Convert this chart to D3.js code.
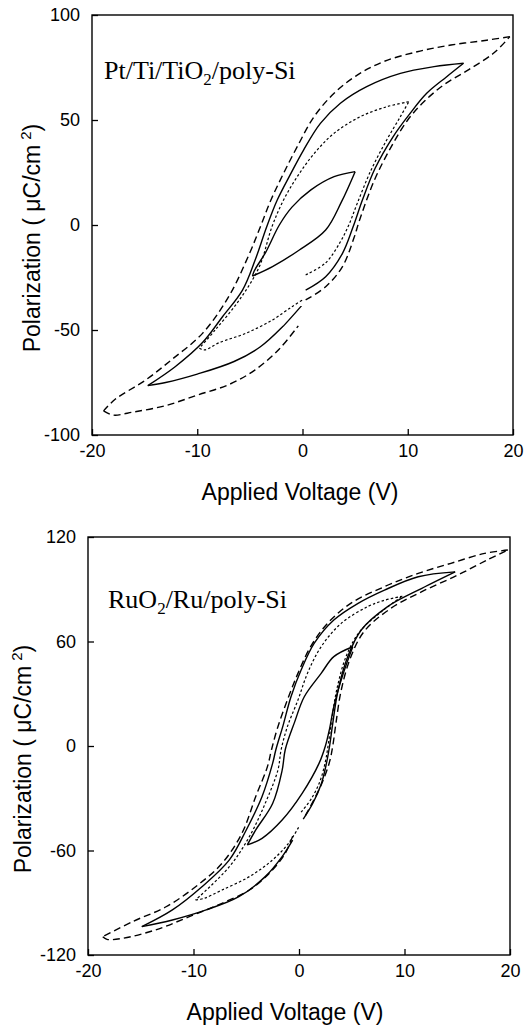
<!DOCTYPE html>
<html>
<head>
<meta charset="utf-8">
<title>P-V hysteresis loops</title>
<script src="https://d3js.org/d3.v7.min.js"></script>
<style>
  body { margin: 0; background: #fff; }
  svg text { font-family: Arial, "Liberation Sans", sans-serif; fill: #000; }
  .axis-title { font-size: 23px; }
  .sample { font-family: "Times New Roman", "Liberation Serif", serif; font-size: 26px; }
</style>
</head>
<body>
<script>
var width = 525, height = 1031;

// x ticks (both panels)
var voltTicks = [-20, -10, 0, 10, 20];

// ---- top panel: Pt/Ti/TiO2/poly-Si ----
var ptPolTicks = [-100, -50, 0, 50, 100];
// each loop: start at 0 V, up to +Vmax, down to -Vmax, back to 0 V  [V, uC/cm2]
var ptLoop20 = [[0.3,-35.7],[2.2,-29.4],[3.8,-19.8],[4.9,-6],[5.4,2],[6.8,21],[8.4,37],[10,50],[11.6,59],[13.5,67],[15.8,74],[18.2,82],[19.7,89.7],
  [17.5,88],[14.1,85.7],[10.9,82.5],[7.7,77.8],[5.2,71.4],[3,62.7],[1.1,51.6],[-0.5,37.3],[-1.8,24.6],[-3,11.9],[-4,-0.8],[-5.1,-14.3],[-7,-34],[-9.5,-51.6],[-12.4,-64],[-14.9,-73.8],[-17.8,-83],[-18.9,-88.5],
  [-18,-90.5],[-16,-89],[-13,-86],[-10,-81],[-7,-76],[-4.5,-69],[-2.2,-59],[-0.4,-48]];
var ptLoop15 = [[0.3,-31],[2.2,-24.6],[3.8,-13.5],[4.8,-1],[5.7,12],[6.9,27],[8.6,42],[10.2,53],[11.8,62.7],[13.7,70.6],[15.3,77],
  [12.5,75.4],[9.3,72.2],[6.1,65.9],[3.6,58],[1.7,48.4],[0.1,35.7],[-1.1,24.6],[-2.4,11.9],[-3.4,-0.8],[-4.5,-16.7],[-5.7,-31],[-7.6,-43.7],[-9.5,-56],[-12.1,-67.5],[-14.7,-76.5],
  [-13,-75],[-10,-71],[-6.5,-65],[-4,-58],[-1.9,-48.5],[-0.1,-38.5]];
var ptLoop10 = [[0.3,-23.8],[2.2,-18],[3.6,-8],[4.4,0],[5.2,10.3],[6.5,26],[8,40.5],[9.3,51.6],[10.1,58.7],
  [8,56.3],[5.5,51.6],[3,43.7],[1.1,34],[-0.5,23],[-1.8,11.9],[-2.9,-0.8],[-4.1,-19.8],[-6,-35.7],[-8.3,-50],[-9.8,-58.7],
  [-9.3,-59.5],[-7.9,-56],[-5.4,-51.6],[-2.85,-45.2],[-1,-38.9],[0,-35.7]];
var ptLoop5 = [[-4.75,-24.3],[-2.85,-19.8],[-0.3,-11.9],[2.2,-2.4],[3.7,11],[5,25.4],
  [3,23],[0.8,16.7],[-1,8.5],[-2.2,0],[-3.5,-13],[-4.6,-22],[-4.75,-24.3]];

// ---- bottom panel: RuO2/Ru/poly-Si ----
var ruPolTicks = [-120, -60, 0, 60, 120];
var ruLoop20 = [[0.6,-40],[1.4,-31],[2.2,-21],[2.9,-9],[3.2,0],[3.5,13],[4,32],[4.9,51],[6.2,66],[8.7,79],[11.6,88.5],[15,98],[17.9,107],[19.8,112.5],
  [17.6,110.6],[14.4,104.9],[11.3,99.1],[8.1,91.5],[4.9,81.9],[2.7,70.4],[1.1,57],[-0.1,41.7],[-1.1,26.4],[-2,11.1],[-2.6,-2],[-3,-12],[-4.1,-29],[-5.4,-50],[-7.3,-67.4],[-9.8,-80.8],[-12.6,-92.3],[-15.8,-100.9],[-18.6,-109.5],
  [-18.2,-111],[-16.7,-110.4],[-13.6,-105.6],[-10.4,-98],[-7.3,-90.3],[-4.7,-82.7],[-2.8,-73],[-1.3,-61.6],[-0.5,-50]];
var ruLoop15 = [[0.4,-42],[1.3,-33],[2.1,-22],[2.6,-10],[2.9,0],[3.2,13],[3.7,32],[4.6,51],[5.9,66.6],[8.4,80],[11.3,89.5],[14.8,100],
  [11.3,97.2],[8.1,89.5],[5.6,81.9],[3.3,72.3],[1.45,59],[0.2,43.6],[-0.76,28.3],[-1.5,12],[-2.2,-2.3],[-2.5,-10],[-3.5,-29],[-5,-48.2],[-6.6,-65.4],[-9.2,-80.8],[-12,-94.1],[-14.9,-103.7],
  [-12,-99.9],[-8.8,-94.1],[-5.7,-86.5],[-3.2,-75],[-1.6,-63.5],[-0.6,-54]];
var ruLoop10 = [[0.2,-38],[1.2,-30],[2,-20],[2.5,-9],[2.8,2],[3.1,15],[3.6,33],[4.5,52],[5.8,66],[8,78],[9.8,86],
  [8,83.5],[6.5,80],[4,70.4],[2.1,57],[0.8,41.7],[-0.1,26.4],[-1.1,11.1],[-1.7,-2.3],[-2,-13.8],[-3.2,-32.9],[-4.7,-52],[-6.6,-69.3],[-9.8,-88.4],
  [-9,-87.5],[-7.3,-82.7],[-4.7,-75],[-2.5,-65.4],[-1,-55.9],[0,-46.3]];
var ruLoop5 = [[-4.9,-56.8],[-3.5,-53],[-1.6,-42.5],[0.3,-27.2],[1.9,-10],[2.5,0],[2.9,10],[3.3,22.6],[4.2,41.7],[5.1,57],
  [3.3,51.3],[2.1,41.7],[0.5,28.3],[-0.4,14],[-1.3,-2],[-1.6,-14],[-2.5,-33],[-4.1,-48.2],[-4.9,-56.8]];

var dashStyles = { solid: null, dashed: "7,4", dotted: "2.5,2.2" };

var svg = d3.select("body")
  .append("svg")
  .attr("width", width)
  .attr("height", height);

// break a loop at its voltage turning points so the tips stay sharp
function splitAtTurns(loop) {
  var vs = loop.map(function(d) { return d[0]; });
  var cuts = [0, vs.indexOf(d3.max(vs)), vs.indexOf(d3.min(vs)), loop.length - 1];
  cuts = Array.from(new Set(cuts)).sort(function(a, b) { return a - b; });
  var segs = [];
  for (var i = 0; i < cuts.length - 1; i++) segs.push(loop.slice(cuts[i], cuts[i + 1] + 1));
  return segs;
}

function drawPanel(p) {
  var x = d3.scaleLinear().domain([-20, 20]).range([p.left, p.right]);
  var y = d3.scaleLinear().domain(p.yDomain).range([p.bottom, p.top]);
  var g = svg.append("g");

  var line = d3.line()
    .x(function(d) { return x(d[0]); })
    .y(function(d) { return y(d[1]); })
    .curve(d3.curveCatmullRom.alpha(0.5));

  p.loops.forEach(function(l) {
    splitAtTurns(l.data).forEach(function(seg) {
      g.append("path")
        .attr("d", line(seg))
        .attr("fill", "none")
        .attr("stroke", "#000")
        .attr("stroke-width", l.style == "dotted" ? 1.2 : 1.4)
        .attr("stroke-dasharray", dashStyles[l.style]);
    });
  });

  // x axis, ticks pointing in
  var xAxis = g.append("g")
    .attr("transform", "translate(0," + p.bottom + ")")
    .call(d3.axisBottom(x).tickValues(voltTicks).tickSizeInner(-6).tickSizeOuter(0).tickPadding(9)
      .tickFormat(function(d) { return String(d); }));
  var yAxis = g.append("g")
    .attr("transform", "translate(" + p.left + ",0)")
    .call(d3.axisLeft(y).tickValues(p.yTicks).tickSizeInner(-6).tickSizeOuter(0).tickPadding(12)
      .tickFormat(function(d) { return String(d); }));
  [xAxis, yAxis].forEach(function(a) {
    a.select(".domain").remove();
    a.attr("font-size", 18).attr("font-family", "Arial, 'Liberation Sans', sans-serif");
    a.selectAll("line").attr("stroke-width", 1.3);
  });

  g.append("rect")
    .attr("x", p.left).attr("y", p.top)
    .attr("width", p.right - p.left).attr("height", p.bottom - p.top)
    .attr("fill", "none").attr("stroke", "#000").attr("stroke-width", 1.4);

  // axis titles
  g.append("text")
    .attr("class", "axis-title")
    .attr("x", p.xTitleX).attr("y", p.bottom + 65)
    .attr("text-anchor", "middle")
    .text("Applied Voltage (V)");

  var yt = g.append("text")
    .attr("class", "axis-title")
    .attr("text-anchor", "middle")
    .attr("transform", "translate(" + p.yTitleX + "," + ((p.top + p.bottom) / 2 + 13) + ") rotate(-90)");
  yt.append("tspan").text("Polarization (  \u03BCC/cm");
  yt.append("tspan").attr("font-size", 15).attr("dx", 5).attr("dy", -9).text("2");
  yt.append("tspan").attr("dy", 9).text(")");

  // sample label with subscript 2
  var s = g.append("text")
    .attr("class", "sample")
    .attr("x", p.labelX).attr("y", p.labelY);
  s.append("tspan").text(p.label[0]);
  s.append("tspan").attr("font-size", 17).attr("dy", 6).text("2");
  s.append("tspan").attr("dy", -6).text(p.label[1]);
}

drawPanel({
  left: 92, right: 513, top: 15, bottom: 435,
  yDomain: [-100, 100], yTicks: ptPolTicks,
  loops: [{ data: ptLoop20, style: "dashed" }, { data: ptLoop15, style: "solid" },
          { data: ptLoop10, style: "dotted" }, { data: ptLoop5, style: "solid" }],
  xTitleX: 300, yTitleX: 40,
  label: ["Pt/Ti/TiO", "/poly-Si"], labelX: 104, labelY: 79
});

drawPanel({
  left: 88, right: 510, top: 537, bottom: 955,
  yDomain: [-120, 120], yTicks: ruPolTicks,
  loops: [{ data: ruLoop20, style: "dashed" }, { data: ruLoop15, style: "solid" },
          { data: ruLoop10, style: "dotted" }, { data: ruLoop5, style: "solid" }],
  xTitleX: 285, yTitleX: 31,
  label: ["RuO", "/Ru/poly-Si"], labelX: 108, labelY: 608
});
</script>
</body>
</html>
